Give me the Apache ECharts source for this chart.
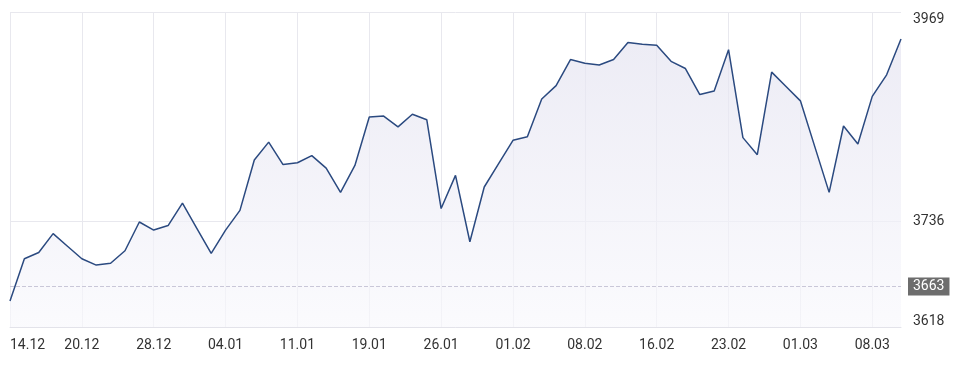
<!DOCTYPE html>
<html>
<head>
<meta charset="utf-8">
<script src="https://cdn.jsdelivr.net/npm/echarts@6/dist/echarts.min.js"></script>
<style>
html,body{margin:0;padding:0;background:#fff;}
#chart{width:955px;height:366px;}
</style>
</head>
<body>
<div id="chart"></div>
<script>
const categories = [
  '14.12','15.12','16.12','17.12','18.12','20.12','21.12','22.12','23.12','24.12',
  '28.12','29.12','30.12','31.12','02.01','04.01','05.01','06.01','07.01','08.01',
  '11.01','12.01','13.01','14.01','15.01','19.01','20.01','21.01','22.01','25.01',
  '26.01','27.01','28.01','29.01','31.01','01.02','02.02','03.02','04.02','05.02',
  '08.02','09.02','10.02','11.02','12.02','16.02','17.02','18.02','19.02','22.02',
  '23.02','24.02','25.02','26.02','28.02','01.03','02.03','03.03','04.03','05.03',
  '08.03','09.03','10.03'
];
const values = [
  3647,3694,3701,3722,3708,3694,3687,3689,3703,3735,
  3726,3731,3756,3728,3700,3726,3748,3804,3824,3799,
  3801,3809,3795,3768,3798,3852,3853,3841,3855,3849,
  3750,3787,3713,3774,3800,3826,3830,3872,3887,3916,
  3912,3910,3916,3935,3933,3932,3914,3906,3877,3881,
  3927,3829,3810,3902,3886,3870,3819,3768,3842,3822,
  3875,3899,3939
];
const yTicks = [3618, 3736, 3969];
const yMin = 3618, yMax = 3969;
const refLevel = 3663;

const chart = echarts.init(document.getElementById('chart'), null, {renderer: 'canvas'});
chart.setOption({
  animation: false,
  grid: {left: 10, right: 54, top: 12, bottom: 39, containLabel: false},
  xAxis: {
    type: 'category',
    data: categories,
    boundaryGap: false,
    axisLine: {show: true, lineStyle: {color: '#e3e3ea', width: 1}},
    axisTick: {show: false},
    axisLabel: {
      interval: 4, fontSize: 14, color: '#333', margin: 11,
      fontFamily: 'Roboto', alignMinLabel: 'left'
    },
    splitLine: {show: true, interval: 4, lineStyle: {color: '#e8e8ee', width: 1}}
  },
  yAxis: {
    type: 'value',
    position: 'right',
    min: yMin, max: yMax,
    axisLine: {show: false},
    axisTick: {show: false, customValues: yTicks},
    axisLabel: {
      customValues: yTicks,
      margin: 12, fontSize: 14, color: '#333', fontFamily: 'Roboto',
      formatter: function (v) {
        if (v === yMax) return '{t|' + v + '}';
        if (v === yMin) return '{b|' + v + '}';
        return '{m|' + v + '}';
      },
      rich: {
        t: {fontSize: 14, color: '#333', fontFamily: 'Roboto', padding: [15, 0, 0, 0]},
        b: {fontSize: 14, color: '#333', fontFamily: 'Roboto', padding: [0, 0, 12, 0]},
        m: {fontSize: 14, color: '#333', fontFamily: 'Roboto'}
      }
    },
    splitLine: {show: true, lineStyle: {color: '#e8e8ee', width: 1}}
  },
  series: [{
    type: 'line',
    data: values,
    showSymbol: false,
    symbol: 'none',
    lineStyle: {color: '#2b4a80', width: 1.5},
    areaStyle: {
      color: new echarts.graphic.LinearGradient(0, 0, 0, 1, [
        {offset: 0, color: '#e4e3f0'},
        {offset: 1, color: '#f8f8fc'}
      ])
    },
    emphasis: {disabled: true},
    markLine: {
      silent: true,
      symbol: 'none',
      lineStyle: {type: 'dashed', color: '#c9c7d8', width: 1},
      label: {
        position: 'end',
        formatter: String(refLevel),
        backgroundColor: '#6d6d6d',
        color: '#fff',
        fontSize: 14,
        fontFamily: 'Roboto',
        padding: [2, 5, 2, 5],
        distance: 7
      },
      data: [{yAxis: refLevel}]
    }
  }]
});
</script>
</body>
</html>
